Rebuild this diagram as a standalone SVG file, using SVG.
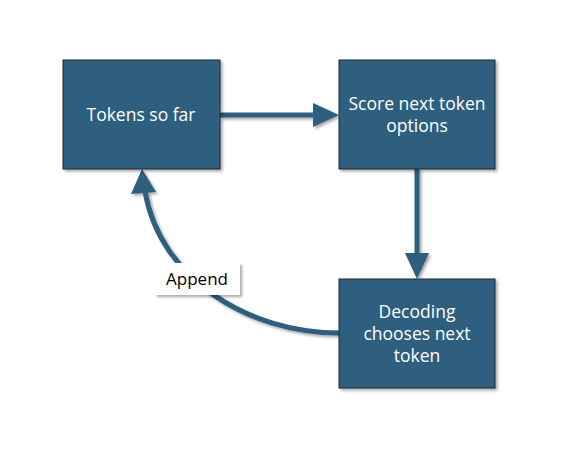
<svg xmlns="http://www.w3.org/2000/svg" width="567" height="456" viewBox="0 0 567 456">
<style>
.box{fill:#2E5E7E;stroke:#1c2a33;stroke-width:1;filter:url(#sh)}
.t{fill:#fff;font-family:"Open Sans","Liberation Sans",sans-serif;font-size:17.5px;font-weight:500;text-anchor:middle}
.c{fill:none;stroke:#2E5E7E;stroke-width:5}
.lbl{fill:#000;font-family:"Open Sans","Liberation Sans",sans-serif;font-size:17px;text-anchor:middle}
</style>
<defs>
<filter id="sh" x="-10%" y="-10%" width="130%" height="130%">
<feDropShadow dx="2" dy="2" stdDeviation="1.5" flood-color="#000" flood-opacity="0.35"/>
</filter>
</defs>
<g id="connectors">
<g filter="url(#sh)">
<line class="c" x1="220" y1="115" x2="315" y2="115"/>
<polygon points="313,103 339,115 313,127" fill="#2E5E7E"/>
<line class="c" x1="417" y1="169" x2="417" y2="255"/>
<polygon points="405,253 429,253 417,279" fill="#2E5E7E"/>
<path class="c" d="M339,333 C250,333 160,280 145,191"/>
<polygon points="131,194 156,192 142,169" fill="#2E5E7E"/>
</g>
<g id="append-label">
<rect x="155" y="263" width="85" height="32" fill="#fff" filter="url(#sh)"/>
<text class="lbl" x="197" y="285">Append</text>
</g>
</g>
<g id="tokens">
<rect class="box" x="63" y="60" width="157" height="109"/>
<text class="t" x="141" y="121">Tokens so far</text>
</g>
<g id="score">
<rect class="box" x="339" y="60" width="156" height="109"/>
<text class="t" x="417" y="110">Score next token</text>
<text class="t" x="417" y="132">options</text>
</g>
<g id="decoding">
<rect class="box" x="339" y="279" width="156" height="109"/>
<text class="t" x="417" y="318">Decoding</text>
<text class="t" x="417" y="340">chooses next</text>
<text class="t" x="417" y="362">token</text>
</g>
</svg>
